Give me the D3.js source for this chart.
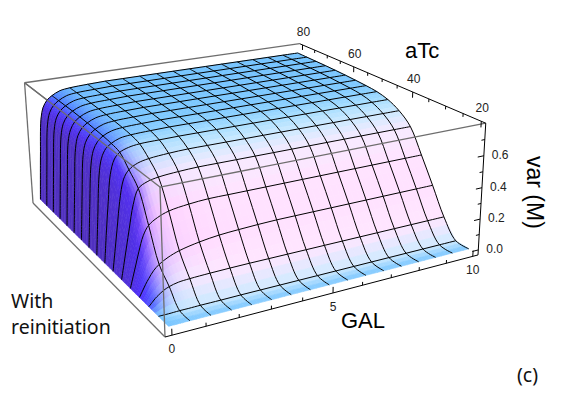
<!DOCTYPE html>
<html lang="en">
<head>
    <meta charset="UTF-8">
    <title>var (M) surface</title>
    <style>
        html, body { margin: 0; padding: 0; background: #fff; }
        svg { display: block; }
        .tick-label { font: 12px "Liberation Sans", Arial, sans-serif; fill: #222; }
        .axis-title { font: 22px "Liberation Sans", Arial, sans-serif; fill: #000; }
        .note { font: 19.5px "Noto Sans", sans-serif; fill: #111; }
    </style>
    <script src="https://cdn.jsdelivr.net/npm/d3@7"></script>
</head>
<body>
<script>
const galValues = [0, 0.1, 0.2, 0.3, 0.45, 0.625, 0.9, 1.25, 1.875, 2.5, 3.125, 3.75, 4.375, 5, 5.625, 6.25, 6.875, 7.5, 8.125, 8.75, 9.375, 10];
const atcValues = [20, 23.75, 27.5, 31.25, 35, 38.75, 42.5, 46.25, 50, 53.75, 57.5, 61.25, 65, 68.75, 72.5, 76.25, 80];

// var (M), one row per aTc value, one column per GAL value
const varGrid = [
    [0, 0, 0, 0, 0, 0, 0, 0, 0, 0, 0, 0, 0, 0, 0, 0, 0, 0, 0, 0, 0, 0],
    [0, 0, 0, 0, .001, .002, .002, .003, .003, .004, .004, .004, .004, .004, .004, .004, .004, .004, .004, .004, .004, .004],
    [0, .02, .04, .055, .075, .09, .103, .108, .112, .114, .115, .115, .115, .115, .115, .115, .115, .115, .115, .115, .115, .115],
    [0, .035, .07, .1, .14, .17, .2, .225, .25, .265, .272, .277, .28, .28, .28, .28, .28, .28, .28, .28, .28, .28],
    [0, .07, .14, .21, .3, .355, .39, .415, .432, .44, .44, .44, .44, .44, .44, .44, .44, .44, .44, .44, .44, .44],
    [0, .1, .2, .3, .44, .53, .56, .575, .585, .59, .59, .59, .59, .59, .59, .59, .59, .59, .59, .59, .59, .59],
    [0, .14, .28, .42, .55, .6, .63, .645, .655, .66, .66, .66, .66, .66, .66, .66, .66, .66, .66, .66, .66, .66],
    [0, .2, .38, .54, .63, .665, .685, .695, .698, .7, .7, .7, .7, .7, .7, .7, .7, .7, .7, .7, .7, .7],
    [0, .26, .5, .6, .655, .68, .703, .712, .717, .72, .72, .72, .72, .72, .72, .72, .72, .72, .72, .72, .72, .72],
    [0, .28, .52, .61, .66, .688, .71, .72, .725, .728, .728, .728, .728, .728, .728, .728, .728, .728, .728, .728, .728, .728],
    [0, .29, .54, .62, .665, .692, .715, .725, .73, .733, .733, .733, .733, .733, .733, .733, .733, .733, .733, .733, .733, .733],
    [0, .295, .545, .625, .67, .696, .719, .729, .734, .737, .737, .737, .737, .737, .737, .737, .737, .737, .737, .737, .737, .737],
    [0, .3, .55, .625, .672, .698, .721, .731, .736, .74, .74, .74, .74, .74, .74, .74, .74, .74, .74, .74, .74, .74],
    [0, .3, .55, .63, .674, .7, .723, .733, .738, .742, .742, .742, .742, .742, .742, .742, .742, .742, .742, .742, .742, .742],
    [0, .3, .55, .63, .674, .7, .724, .734, .739, .743, .743, .743, .743, .743, .743, .743, .743, .743, .743, .743, .743, .743],
    [0, .3, .55, .63, .675, .7, .725, .735, .74, .744, .744, .744, .744, .744, .744, .744, .744, .744, .744, .744, .744, .744],
    [0, .3, .55, .63, .675, .7, .725, .735, .741, .745, .745, .745, .745, .745, .745, .745, .745, .745, .745, .745, .745, .745]
];

const galMesh = [0.625, 1.25, 1.875, 2.5, 3.125, 3.75, 4.375, 5, 5.625, 6.25, 6.875, 7.5, 8.125, 8.75, 9.375];
const atcMesh = [23.75, 27.5, 31.25, 35, 38.75, 42.5, 46.25, 50, 53.75, 57.5, 61.25, 65, 68.75, 72.5, 76.25];

const galTicks = [0, 5, 10];
const galMinor = [1, 2, 3, 4, 6, 7, 8, 9];
const atcTicks = [20, 40, 60, 80];
const atcMinor = [25, 30, 35, 45, 50, 55, 65, 70, 75];
const varTicks = [0, 0.2, 0.4, 0.6];
const varMinor = [0.1, 0.3, 0.5, 0.7];

const w = 570, h = 412;
const svg = d3.select('body').append('svg').attr('width', w).attr('height', h);

// scales go to the unit box, 2% padding like the original plot
const xScale = d3.scaleLinear([-0.2, 10.2], [0, 1]);
const yScale = d3.scaleLinear([18.8, 81.2], [0, 1]);
const zScale = d3.scaleLinear([-0.033, 0.8], [0, 1]);

// perspective camera fitted to the box corners
const g3 = [0.159, 0.284, -0.043];
const org = [165, 337], ux = [389, -41.5], uy = [-122.6, -76.3], uz = [-11.9, -158];
function project(x, y, z) {
    const d = 1 + g3[0] * x + g3[1] * y + g3[2] * z;
    return [
        (org[0] + ux[0] * x + uy[0] * y + uz[0] * z) / d,
        (org[1] + ux[1] * x + uy[1] * y + uz[1] * z) / d
    ];
}
const pt = (gal, atc, v) => project(xScale(gal), yScale(atc), zScale(v));

// lighting, same three coloured lights as the original
const boxZ = 0.5;
const fwd = norm([g3[0], g3[1], g3[2] / boxZ]);
const right = norm([fwd[1], -fwd[0], 0]);
const up = cross(right, fwd);
const back = fwd.map(d => -d);
function norm(a) { const l = Math.hypot(...a); return a.map(d => d / l); }
function cross(a, b) {
    return [a[1] * b[2] - a[2] * b[1], a[2] * b[0] - a[0] * b[2], a[0] * b[1] - a[1] * b[0]];
}
const dot = (a, b) => a[0] * b[0] + a[1] * b[1] + a[2] * b[2];
const lightR = norm([1, 0, 1]), lightG = norm([1, 1, 0.8]), lightB = norm([-0.1, 1, 1]);

function shade(j, i) {
    const i0 = Math.max(i - 1, 0), i1 = Math.min(i + 1, galValues.length - 1);
    const j0 = Math.max(j - 1, 0), j1 = Math.min(j + 1, atcValues.length - 1);
    const dx = (zScale(varGrid[j][i1]) - zScale(varGrid[j][i0])) * boxZ / (xScale(galValues[i1]) - xScale(galValues[i0]));
    const dy = (zScale(varGrid[j1][i]) - zScale(varGrid[j0][i])) * boxZ / (yScale(atcValues[j1]) - yScale(atcValues[j0]));
    const n = norm([-dx, -dy, 1]);
    const v = [dot(n, right), dot(n, up), dot(n, back)];
    return [
        Math.min(1, 0.312 + 0.8 * Math.max(0, dot(v, lightR))),
        Math.min(1, 0.188 + 0.8 * Math.max(0, dot(v, lightG))),
        Math.min(1, 0.47 + 0.8 * Math.max(0, dot(v, lightB)))
    ];
}
const colors = atcValues.map((_, j) => galValues.map((_, i) => shade(j, i)));

const line = d3.line().curve(d3.curveCatmullRom);
const straight = d3.line();

function edge(g, a, b, color, width) {
    g.append('path').attr('d', straight([a, b])).attr('fill', 'none').attr('stroke', color).attr('stroke-width', width);
}

// back box edges
const gBack = svg.append('g');
edge(gBack, project(0, 1, 1), project(1, 1, 1), '#6e6e6e', 1.3);
edge(gBack, project(0, 1, 1), project(0, 1, 0), '#6e6e6e', 1.3);
edge(gBack, project(0, 1, 0), project(0, 0, 0), '#6e6e6e', 1.3);
edge(gBack, project(0, 1, 1), project(0, 0, 1), '#6e6e6e', 1.3);

// surface, smooth shaded by splitting each cell
const gSurface = svg.append('g');
const sub = 3;
const lerp = (a, b, t) => a + (b - a) * t;
for (let j = atcValues.length - 2; j >= 0; j--) {
    for (let i = galValues.length - 2; i >= 0; i--) {
        const at = (s, t) => {
            const gal = lerp(galValues[i], galValues[i + 1], s);
            const atc = lerp(atcValues[j], atcValues[j + 1], t);
            const v = lerp(lerp(varGrid[j][i], varGrid[j][i + 1], s), lerp(varGrid[j + 1][i], varGrid[j + 1][i + 1], s), t);
            return pt(gal, atc, v);
        };
        for (let b = sub - 1; b >= 0; b--) {
            for (let a = sub - 1; a >= 0; a--) {
                const s = (a + 0.5) / sub, t = (b + 0.5) / sub;
                const rgb = [0, 1, 2].map(k => lerp(
                    lerp(colors[j][i][k], colors[j][i + 1][k], s),
                    lerp(colors[j + 1][i][k], colors[j + 1][i + 1][k], s), t));
                const col = d3.rgb(rgb[0] * 255, rgb[1] * 255, rgb[2] * 255).formatHex();
                const poly = [at(a / sub, b / sub), at((a + 1) / sub, b / sub), at((a + 1) / sub, (b + 1) / sub), at(a / sub, (b + 1) / sub)];
                gSurface.append('path')
                    .attr('d', straight(poly) + 'Z')
                    .attr('fill', col)
                    .attr('stroke', col)
                    .attr('stroke-width', 0.6);
            }
        }
    }
}

// mesh lines
const gMesh = svg.append('g').attr('fill', 'none').attr('stroke', '#000').attr('stroke-width', 1);
atcMesh.concat([80]).forEach(atc => {
    const j = atcValues.indexOf(atc);
    gMesh.append('path').attr('d', line(galValues.map((gal, i) => pt(gal, atc, varGrid[j][i]))));
});
galMesh.concat([10]).forEach(gal => {
    const i = galValues.indexOf(gal);
    gMesh.append('path').attr('d', line(atcValues.map((atc, j) => pt(gal, atc, varGrid[j][i]))));
});

// front box edges
const gFront = svg.append('g');
edge(gFront, project(0, 0, 0), project(0, 0, 1), '#6e6e6e', 1.3);
edge(gFront, project(0, 0, 1), project(1, 0, 1), '#6e6e6e', 1.3);
edge(gFront, project(0, 0, 1), project(0, 1, 1), '#6e6e6e', 1.3);

// axes
const gAxes = svg.append('g');
edge(gAxes, project(0, 0, 0), project(1, 0, 0), '#000', 1);
edge(gAxes, project(1, 0, 1), project(1, 1, 1), '#000', 1);
edge(gAxes, project(1, 0, 0), project(1, 0, 1), '#000', 1);

function addTicks(vals, toBox, dir, len) {
    vals.forEach(v => {
        const p = toBox(v);
        edge(gAxes, project(...p), project(p[0] + dir[0] * len, p[1] + dir[1] * len, p[2] + dir[2] * len), '#000', 1);
    });
}
const onGal = v => [xScale(v), 0, 0];
const onAtc = v => [1, yScale(v), 1];
const onVar = v => [1, 0, zScale(v)];
addTicks(galTicks, onGal, [0, 0, 1], 0.045);
addTicks(galMinor, onGal, [0, 0, 1], 0.025);
addTicks(atcTicks, onAtc, [0, 0, -1], 0.045);
addTicks(atcMinor, onAtc, [0, 0, -1], 0.025);
addTicks(varTicks, onVar, [-1, 0, 0], 0.022);
addTicks(varMinor, onVar, [-1, 0, 0], 0.012);

function tickLabels(vals, toBox, dx, dy, fmt, anchor) {
    gAxes.selectAll(null).data(vals).enter().append('text')
        .attr('class', 'tick-label')
        .attr('text-anchor', anchor)
        .attr('x', d => project(...toBox(d))[0] + dx)
        .attr('y', d => project(...toBox(d))[1] + dy)
        .text(fmt);
}
tickLabels(galTicks, onGal, 0, 18, d3.format('d'), 'middle');
tickLabels(atcTicks, onAtc, 1, -9, d3.format('d'), 'middle');
tickLabels(varTicks, onVar, 8, 3, d3.format('.1f'), 'start');

// titles
svg.append('text').attr('class', 'axis-title').attr('x', 405).attr('y', 58).text('aTc');
svg.append('text').attr('class', 'axis-title').attr('x', 341).attr('y', 328).text('GAL');
svg.append('text').attr('class', 'axis-title')
    .attr('transform', 'translate(527,156) rotate(90)').style('font-size', '23px').text('var (M)');
svg.append('text').attr('class', 'note').attr('x', 11).attr('y', 308).text('With');
svg.append('text').attr('class', 'note').attr('x', 11).attr('y', 334).text('reinitiation');
svg.append('text').attr('class', 'note').attr('x', 517).attr('y', 382).style('font-size', '19.5px').text('(c)');
</script>
</body>
</html>
